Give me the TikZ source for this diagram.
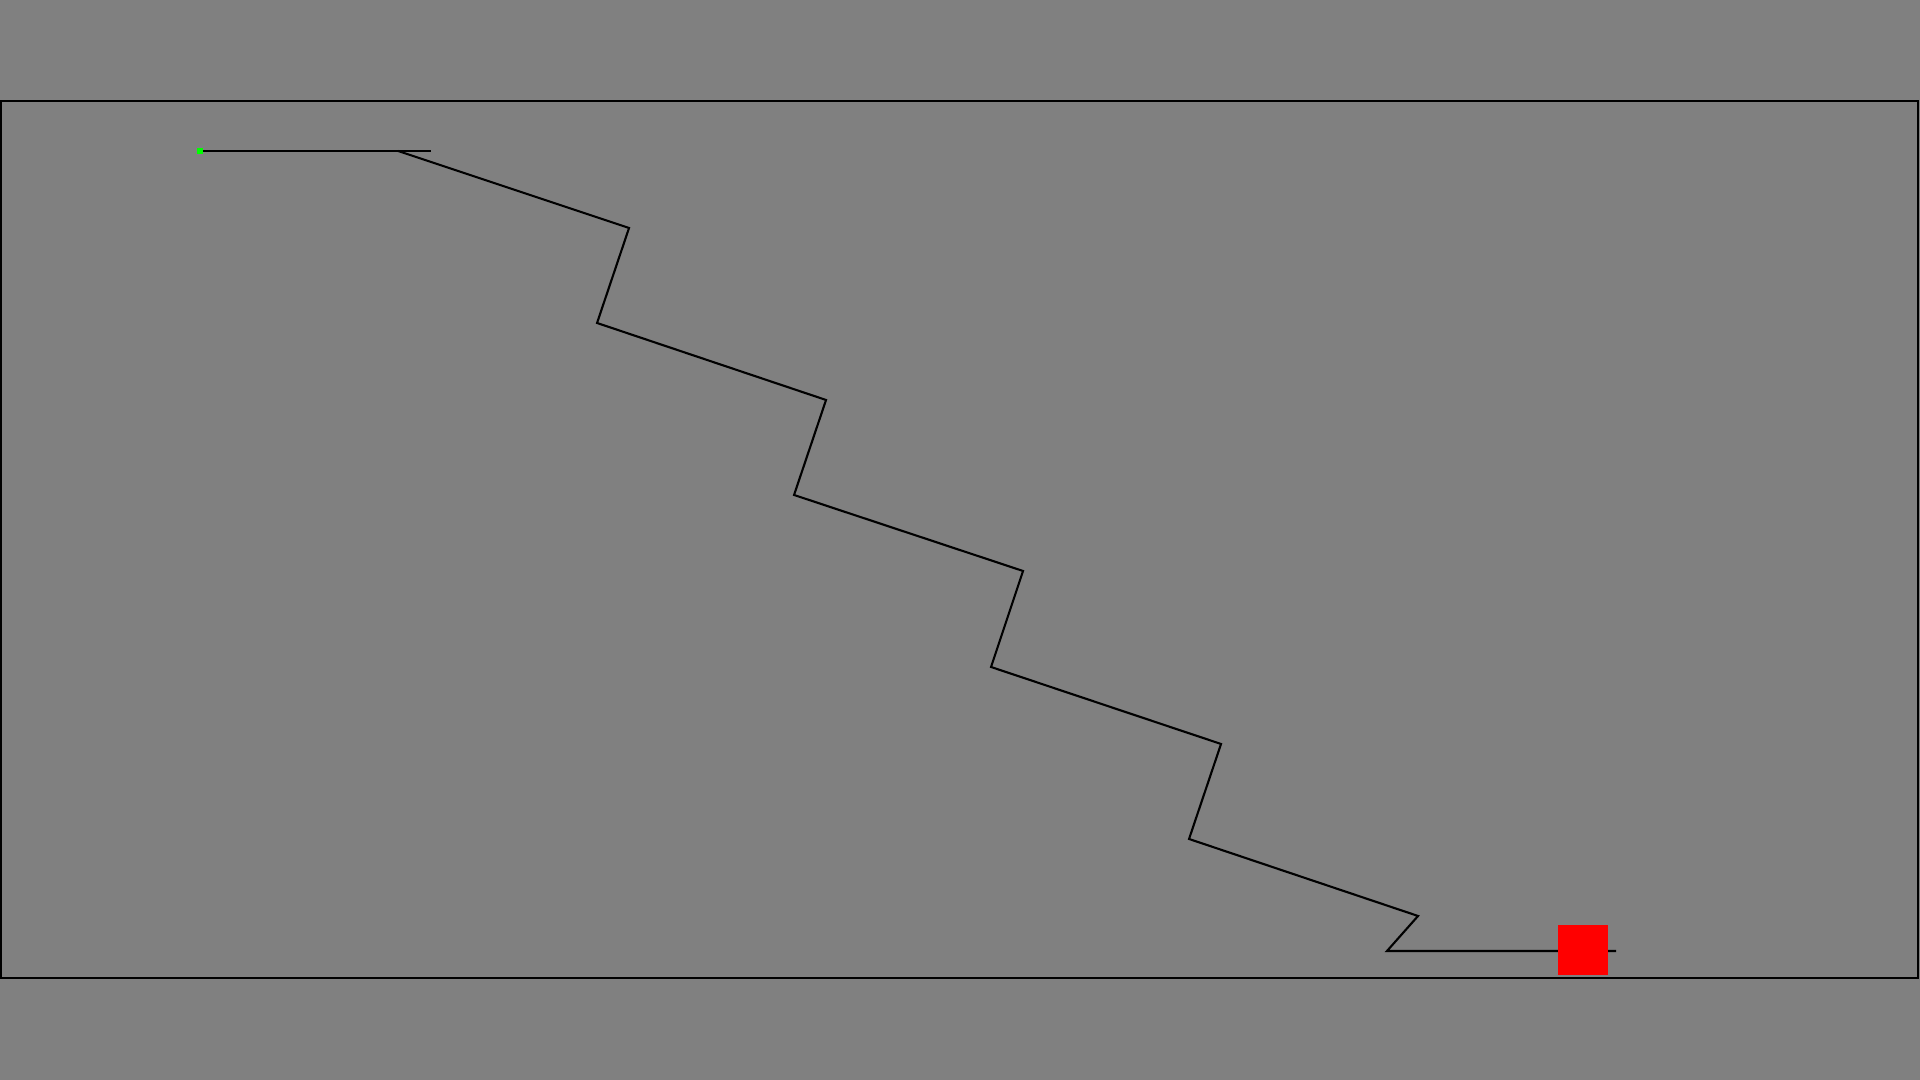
\documentclass[tikz,border=0pt]{standalone}
\definecolor{bggray}{RGB}{128,128,128}
\tikzset{
	startdot/.style={fill=green, inner sep=0pt, minimum size=0.06cm},
	goalbox/.style={fill=red, inner sep=0pt, minimum size=0.5cm},
}
\begin{document}
\begin{tikzpicture}[x=0.01cm,y=-0.01cm,line width=0.6pt]
	\fill[bggray] (0,0) rectangle (1920,1080);
	\coordinate (F_1) at (1,101);
	\coordinate (F_2) at (1918,978);
	\draw (F_1) rectangle (F_2);
	\coordinate (S) at (200,151);
	\coordinate (S_1) at (431,151);
	\coordinate (A) at (398,151);
	\coordinate (B) at (629,228);
	\coordinate (C) at (597,323);
	\coordinate (D) at (826,400);
	\coordinate (E) at (794,495);
	\coordinate (F) at (1023,571);
	\coordinate (G) at (991,667);
	\coordinate (H) at (1221,744);
	\coordinate (I) at (1189,839);
	\coordinate (J) at (1418,916);
	\coordinate (K) at (1387,951);
	\coordinate (L) at (1616,951);
	\draw (S)--(S_1);
	\draw (A)--(B)--(C)--(D)--(E)--(F)--(G)--(H)--(I)--(J)--(K)--(L);
	\node[startdot] (start) at (S) {};
	\node[goalbox] (goal) at (1583,950) {};
\end{tikzpicture}
\end{document}
